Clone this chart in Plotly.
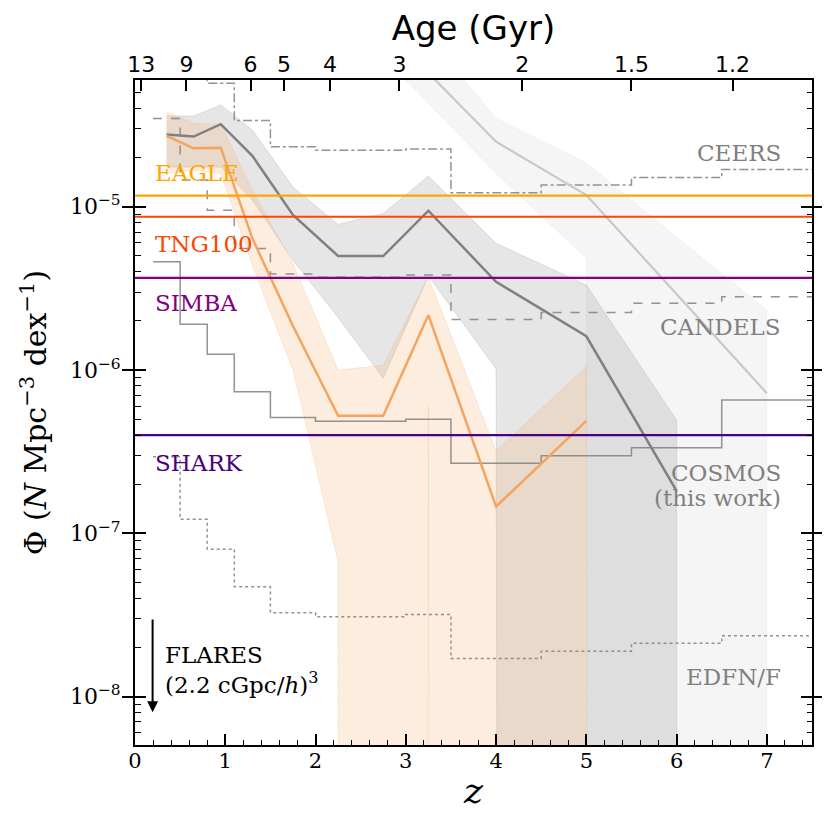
import plotly.graph_objects as go

# ---------------- data ----------------
# survey volume limits (step histograms), bin edges in redshift
bin_edges = [0.2, 0.5, 0.8, 1.1, 1.5, 2.0, 2.5, 3.0, 3.5, 4.5, 5.5, 6.5, 7.5]
ceers_limit = [1.2e-4, 8.0e-5, 5.7e-5, 3.37e-5, 2.33e-5, 2.22e-5, 2.22e-5, 2.26e-5, 1.22e-5, 1.36e-5, 1.51e-5, 1.69e-5]
candels_limit = [3.47e-5, 1.46e-5, 9.5e-6, 5.55e-6, 3.87e-6, 3.7e-6, 3.7e-6, 3.82e-6, 2.04e-6, 2.25e-6, 2.56e-6, 2.81e-6]
cosmos_limit = [4.6e-6, 1.91e-6, 1.25e-6, 7.36e-7, 5.13e-7, 4.85e-7, 4.85e-7, 5.0e-7, 2.69e-7, 2.99e-7, 3.34e-7, 6.55e-7]
edfn_limit = [2.94e-7, 1.22e-7, 8.0e-8, 4.71e-8, 3.27e-8, 3.09e-8, 3.09e-8, 3.19e-8, 1.71e-8, 1.90e-8, 2.12e-8, 2.36e-8]

# COSMOS (this work) number densities
cosmos_z = [0.35, 0.65, 0.95, 1.3, 1.75, 2.25, 2.75, 3.25, 4.0, 5.0, 6.0]
cosmos_phi = [2.77e-5, 2.69e-5, 3.2e-5, 2.05e-5, 8.9e-6, 4.99e-6, 4.99e-6, 9.46e-6, 3.47e-6, 1.61e-6, 1.82e-7]
cosmos_hi = [3.6e-5, 3.59e-5, 4.2e-5, 2.95e-5, 1.32e-5, 7.8e-6, 9.1e-6, 1.54e-5, 5.97e-6, 3.32e-6, 4.93e-7]
cosmos_lo = [1.75e-5, 1.75e-5, 1.75e-5, 1.1e-5, 4.7e-6, 2.1e-6, 8.9e-7, 3.76e-6, 1.02e-6, 0.0, 0.0]

# orange comparison sample
orange_z = [0.35, 0.65, 0.95, 1.3, 1.75, 2.25, 2.75, 3.25, 4.0, 5.0]
orange_phi = [2.72e-5, 2.28e-5, 2.3e-5, 6.4e-6, 1.86e-6, 5.25e-7, 5.25e-7, 2.17e-6, 1.46e-7, 4.88e-7]
orange_hi = [3.8e-5, 3.25e-5, 3.2e-5, 1.26e-5, 4.5e-6, 1.0e-6, 1.07e-6, 3.7e-6, 3.2e-7, 1.05e-6]
orange_lo = [1.6e-5, 1.68e-5, 1.6e-5, 4.4e-6, 1.0e-6, 6.7e-8, 0.0, 5.95e-7, 0.0, 0.0]

# light grey high-z comparison sample
light_z = [3.0, 4.0, 5.0, 6.0, 7.0]
light_phi = [9.1e-5, 2.5e-5, 1.18e-5, 2.91e-6, 7.2e-7]
light_hi = [1.6e-4, 3.47e-5, 1.85e-5, 6.5e-6, 2.33e-6]
light_lo = [6.0e-5, 1.6e-5, 4.83e-6, 0.0, 0.0]

# simulation box limits (horizontal lines)
sim_names = ["EAGLE", "TNG100", "SIMBA", "SHARK"]
sim_limits = [1.17e-5, 8.68e-6, 3.67e-6, 4.0e-7]
sim_colors = ["#FFA500", "#FF4500", "#800080", "#4B0082"]

# top axis: age of the universe
age_ticks = ["13", "9", "6", "5", "4", "3", "2", "1.5", "1.2"]
age_tick_z = [0.07, 0.57, 1.28, 1.65, 2.16, 2.93, 4.29, 5.5, 6.62]

y_major = [1e-8, 1e-7, 1e-6, 1e-5]
y_major_text = ["10<sup>\u22128</sup>", "10<sup>\u22127</sup>", "10<sup>\u22126</sup>", "10<sup>\u22125</sup>"]

XR = [0, 7.5]
YR = [-8.296, -4.224]
FLOOR = 1e-300

SERIF = "DejaVu Serif"
SANS = "DejaVu Sans"


def floor(v):
    return [x if x > 0 else FLOOR for x in v]


def band(z, hi, lo, color):
    return go.Scatter(
        x=list(z) + list(z)[::-1],
        y=floor(hi) + floor(lo)[::-1],
        fill="toself", fillcolor=color, mode="lines",
        line=dict(color=color, width=1), hoverinfo="skip", showlegend=False)


def steps(vals, dash, width=1.5):
    return go.Scatter(
        x=bin_edges, y=list(vals) + [vals[-1]], mode="lines",
        line=dict(color="rgba(128,128,128,0.85)", width=width, dash=dash, shape="hv"),
        showlegend=False)


fig = go.Figure()
fig.add_trace(band(light_z, light_hi, light_lo, "rgba(200,200,200,0.18)"))
fig.add_trace(band(cosmos_z, cosmos_hi, cosmos_lo, "rgba(128,128,128,0.2)"))
fig.add_trace(band(orange_z, orange_hi, orange_lo, "rgba(244,164,96,0.2)"))

fig.add_trace(steps(edfn_limit, "dot"))
fig.add_trace(steps(cosmos_limit, "solid"))
fig.add_trace(steps(candels_limit, "dash"))
fig.add_trace(steps(ceers_limit, "dashdot"))

fig.add_trace(go.Scatter(x=light_z, y=light_phi, mode="lines",
                         line=dict(color="rgb(200,200,200)", width=2.2), showlegend=False))
fig.add_trace(go.Scatter(x=cosmos_z, y=cosmos_phi, mode="lines",
                         line=dict(color="#808080", width=2.5), showlegend=False))
fig.add_trace(go.Scatter(x=orange_z, y=orange_phi, mode="lines",
                         line=dict(color="#F4A460", width=2.5), showlegend=False))

for name, val, col in zip(sim_names, sim_limits, sim_colors):
    fig.add_trace(go.Scatter(x=XR, y=[val, val], mode="lines",
                             line=dict(color=col, width=2.2), showlegend=False))

# dummy traces to activate the extra axes
fig.add_trace(go.Scatter(x=[1], y=[1e-6], xaxis="x2", yaxis="y", mode="markers",
                         marker=dict(opacity=0), showlegend=False, hoverinfo="skip"))
fig.add_trace(go.Scatter(x=[1], y=[1e-6], xaxis="x", yaxis="y3", mode="markers",
                         marker=dict(opacity=0), showlegend=False, hoverinfo="skip"))

y_minor = [m * 10.0 ** e for e in range(-9, -3) for m in range(2, 10)]

fig.update_layout(
    width=830, height=830, autosize=False,
    margin=dict(l=127, r=26, t=72, b=93),
    paper_bgcolor="white", plot_bgcolor="white",
    showlegend=False,
    xaxis=dict(range=XR, dtick=1, tick0=0, ticks="inside", ticklen=11, tickwidth=1.6,
               tickcolor="black", showline=True, linecolor="black", linewidth=2, mirror=True,
               showgrid=False, zeroline=False,
               minor=dict(ticks="inside", dtick=0.2, tick0=0, ticklen=5.5, tickwidth=1.2,
                          tickcolor="black", showgrid=False),
               tickfont=dict(family=SERIF, size=21, color="black"),
               ticklabelstandoff=-4,
               title=dict(text="<i>z</i>", font=dict(family=SERIF, size=36, color="black"),
                          standoff=6)),
    xaxis2=dict(overlaying="x", side="top", range=XR, tickvals=age_tick_z, ticktext=age_ticks,
                ticks="inside", ticklen=11, tickwidth=1.6, tickcolor="black", showgrid=False,
                zeroline=False, showline=False, anchor="y",
                tickfont=dict(family=SANS, size=22, color="black"),
                ticklabelstandoff=3,
                title=dict(text="Age (Gyr)", font=dict(family=SANS, size=34, color="black"),
                           standoff=2)),
    yaxis=dict(type="log", range=YR, tickvals=y_major, ticktext=y_major_text,
               ticks="inside", ticklen=11, tickwidth=1.6, tickcolor="black",
               showline=True, linecolor="black", linewidth=2, mirror="allticks",
               showgrid=False, zeroline=False,
               tickfont=dict(family=SERIF, size=22, color="black"),
               ticklabelstandoff=8,
               title=dict(text="\u03a6 (<i>N</i> Mpc<sup>\u22123</sup> dex<sup>\u22121</sup>)",
                          font=dict(family=SERIF, size=30, color="black"), standoff=14)),
    yaxis3=dict(type="log", range=YR, overlaying="y", anchor="x", side="left",
                tickvals=y_minor, ticks="inside", ticklen=5.5, tickwidth=1.2, tickcolor="black",
                showticklabels=False, mirror="allticks", showline=False, showgrid=False,
                zeroline=False),
)

# simulation labels
label_pos = {"EAGLE": -4.794, "TNG100": -5.228, "SIMBA": -5.59, "SHARK": -6.571}
for name, col in zip(sim_names, sim_colors):
    fig.add_annotation(x=0.2, y=label_pos[name], xref="x", yref="y", text=name,
                       showarrow=False, xanchor="left", yanchor="middle",
                       font=dict(family=SERIF, size=23, color=col))

# survey labels
for txt, ly in [("CEERS", -4.674), ("CANDELS", -5.737), ("COSMOS", -6.63),
                ("(this work)", -6.784), ("EDFN/F", -7.88)]:
    fig.add_annotation(x=7.18, y=ly, xref="x", yref="y", text=txt, showarrow=False,
                       xanchor="right", yanchor="middle",
                       font=dict(family=SERIF, size=23, color="#808080"))

# FLARES arrow and label
fig.add_annotation(x=0.195, y=-8.096, ax=0.195, ay=-7.519, xref="x", yref="y",
                   axref="x", ayref="y", text="", showarrow=True, arrowhead=2,
                   arrowsize=1.1, arrowwidth=2, arrowcolor="black")
fig.add_annotation(x=0.31, y=-7.746, xref="x", yref="y", text="FLARES", showarrow=False,
                   xanchor="left", yanchor="middle",
                   font=dict(family=SERIF, size=23, color="black"))
fig.add_annotation(x=0.31, y=-7.915, xref="x", yref="y",
                   text="(2.2 cGpc/<i>h</i>)<sup>3</sup>", showarrow=False,
                   xanchor="left", yanchor="middle",
                   font=dict(family=SERIF, size=23, color="black"))

fig.write_html("out.html")
